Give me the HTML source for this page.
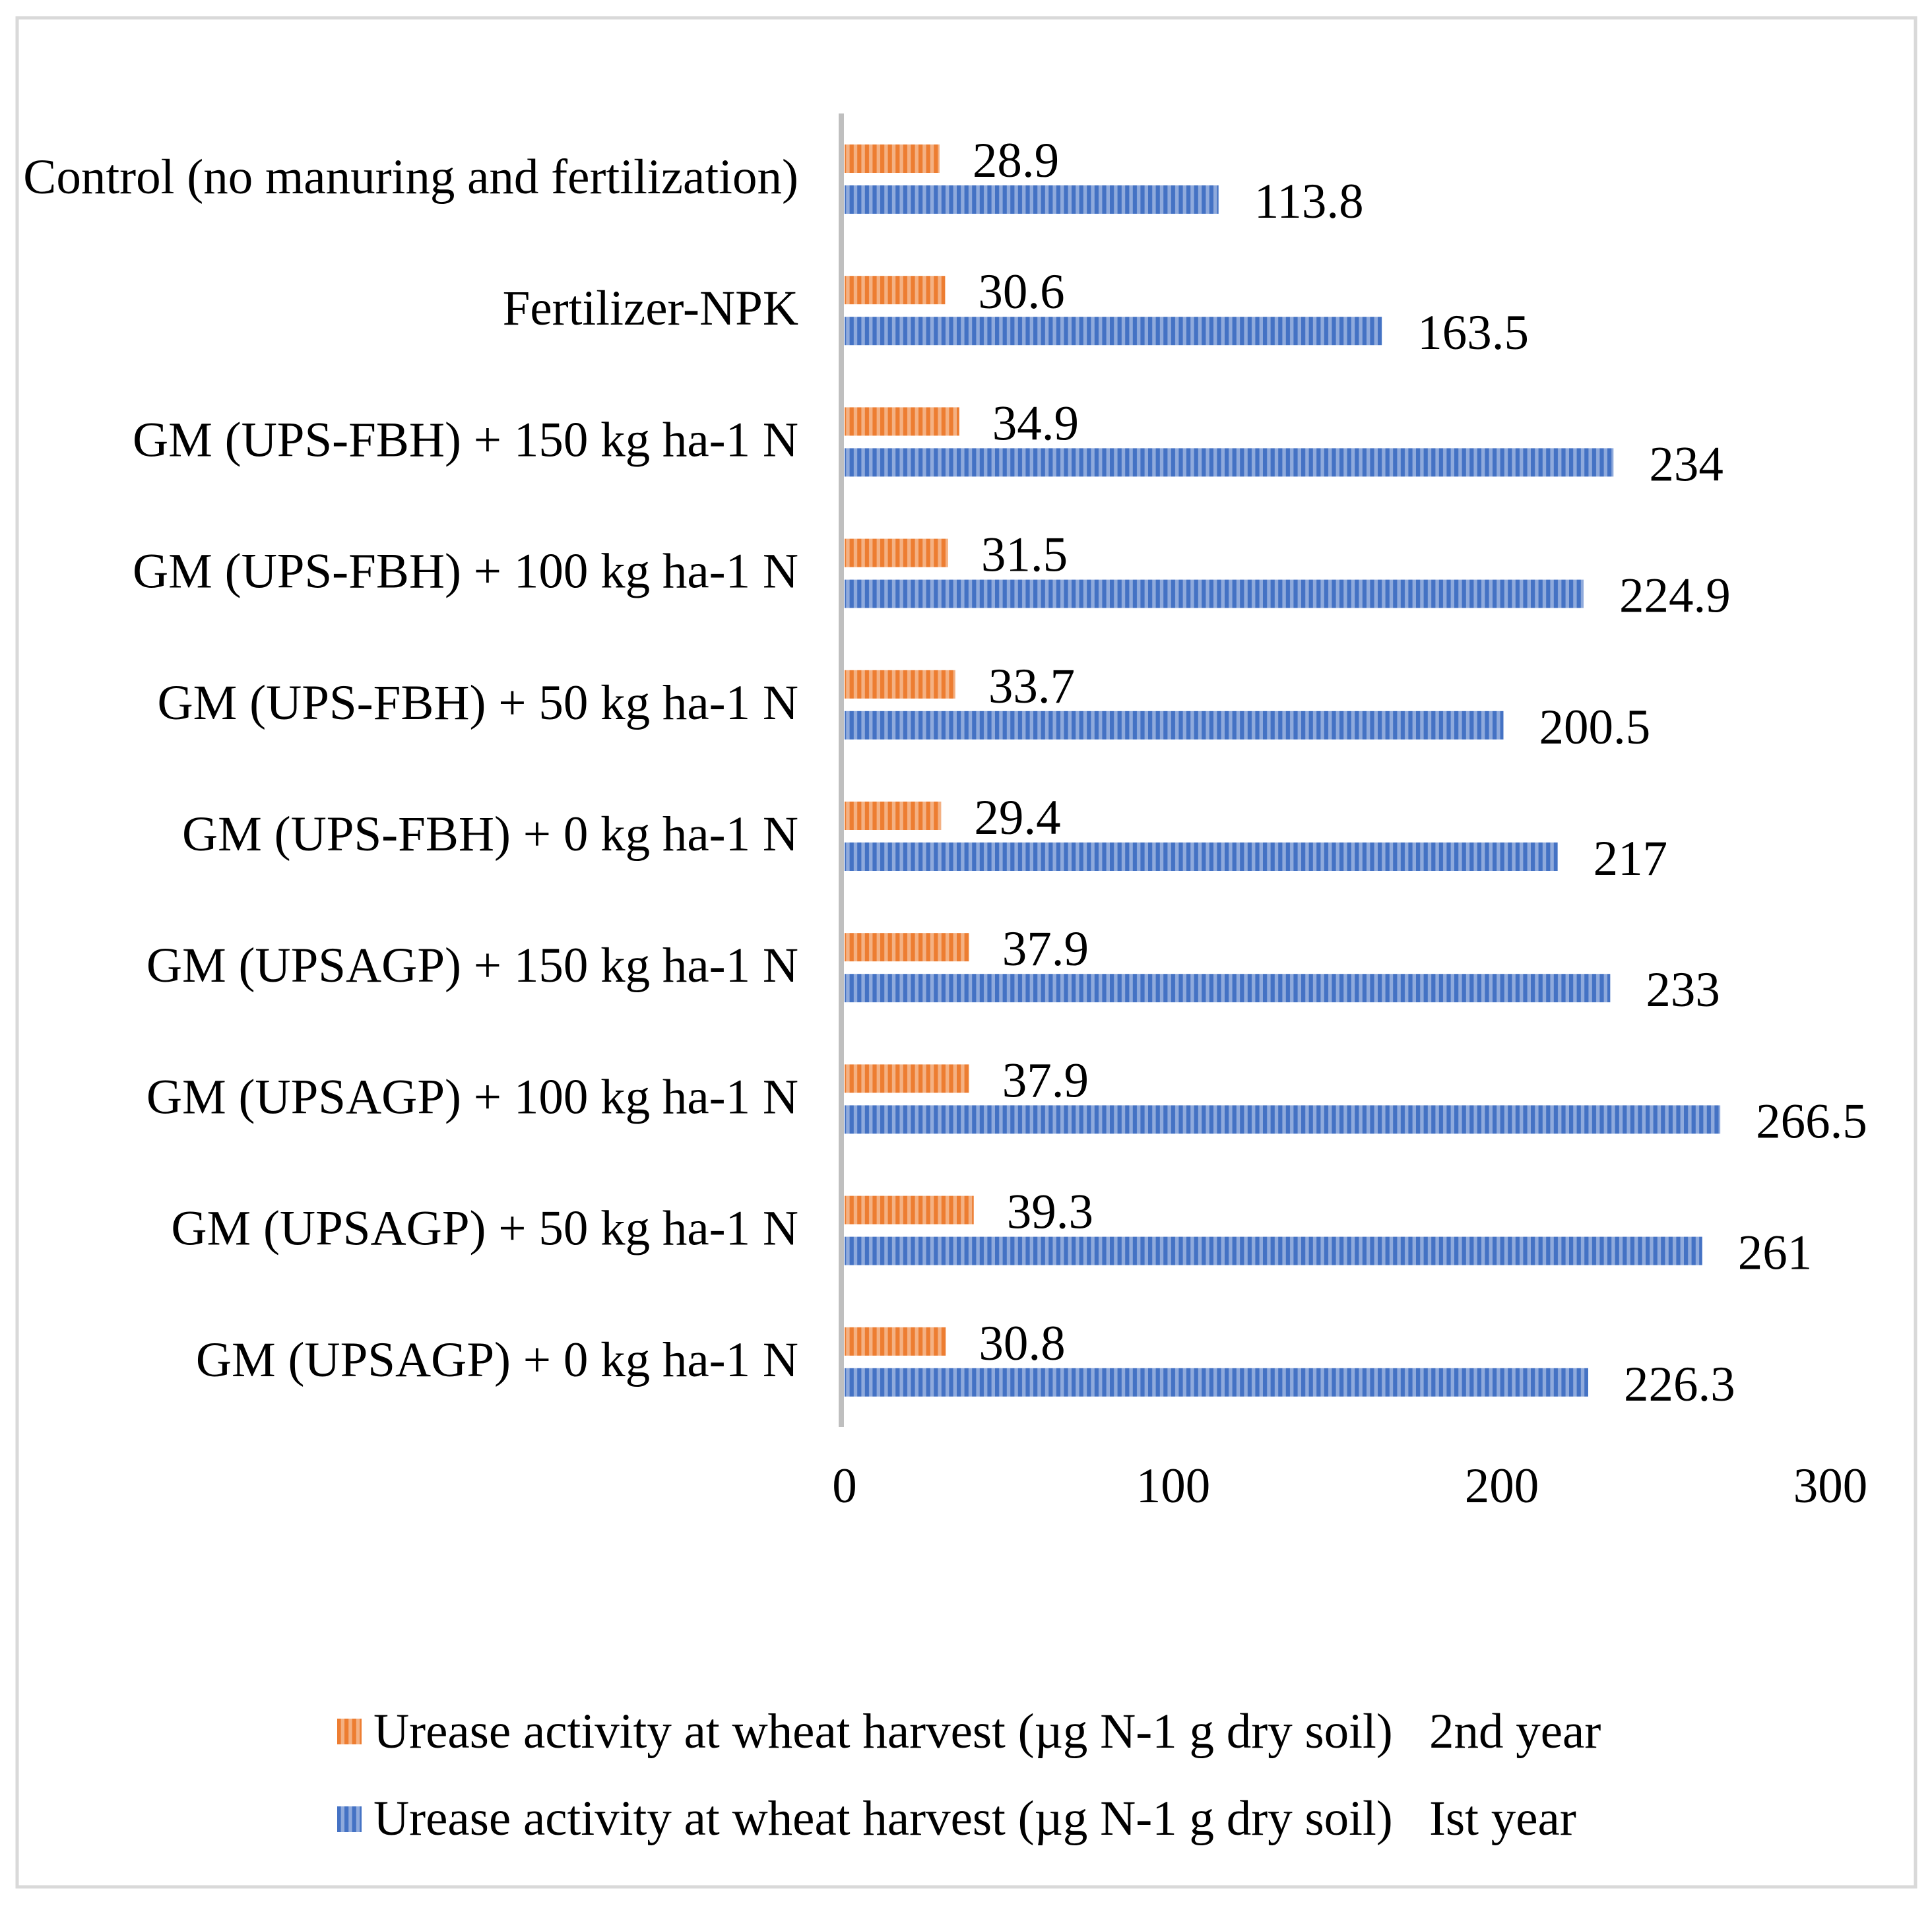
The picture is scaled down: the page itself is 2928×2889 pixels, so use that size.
<!DOCTYPE html>
<html><head><meta charset="utf-8"><style>
html,body{margin:0;padding:0;background:#fff;}
svg{display:block;font-family:"Liberation Serif","Times New Roman",serif;}
</style></head><body>
<svg id="chart" width="2928" height="2889" viewBox="0 0 2928 2889" xmlns="http://www.w3.org/2000/svg">
<defs>
<pattern id="pOrange" width="11.6" height="20" patternUnits="userSpaceOnUse"><rect width="11.6" height="20" fill="#F4B183"/><rect width="6.2" height="20" fill="#ED7D31"/></pattern>
<pattern id="pBlue" width="11.6" height="20" patternUnits="userSpaceOnUse"><rect width="11.6" height="20" fill="#8FAADC"/><rect width="6.2" height="20" fill="#4472C4"/></pattern>
</defs>
<rect x="26" y="27" width="2877" height="2833" fill="#fff" stroke="#D9D9D9" stroke-width="5"/>
<g id="bars"></g>
<rect x="1271" y="172" width="8" height="1991" fill="#BFBFBF"/>
<g id="ticks"></g>
<g>
<rect x="511" y="2605" width="37" height="39" fill="url(#pOrange)"/>
<text x="566" y="2649" font-size="75">Urease activity at wheat harvest (µg N-1 g dry soil)</text>
<text x="2166" y="2649" font-size="75">2nd year</text>
<rect x="511" y="2738" width="37" height="39" fill="url(#pBlue)"/>
<text x="566" y="2781" font-size="75">Urease activity at wheat harvest (µg N-1 g dry soil)</text>
<text x="2166" y="2781" font-size="75">Ist year</text>
</g>
</svg>
<script>
const categories = ["Control (no manuring and fertilization)","Fertilizer-NPK","GM (UPS-FBH) + 150 kg ha-1 N","GM (UPS-FBH) + 100 kg ha-1 N","GM (UPS-FBH) + 50 kg ha-1 N","GM (UPS-FBH) + 0 kg ha-1 N","GM (UPSAGP) + 150 kg ha-1 N","GM (UPSAGP) + 100 kg ha-1 N","GM (UPSAGP) + 50 kg ha-1 N","GM (UPSAGP) + 0 kg ha-1 N"];
const year2Values = [28.9,30.6,34.9,31.5,33.7,29.4,37.9,37.9,39.3,30.8];
const year1Values = [113.8,163.5,234,224.9,200.5,217,233,266.5,261,226.3];
const tickValues = [0,100,200,300];
const tickLabels = ["0","100","200","300"];

const NS = "http://www.w3.org/2000/svg";
const x0 = 1280, pxPerUnit = 4.98;
function xScale(v){ return x0 + v*pxPerUnit; }
const top0 = 219, pitch = 199.2, barH = 43, gap = 19;
function yBand(i){ return top0 + i*pitch; }
function mk(tag, attrs, parent, text){
  const el = document.createElementNS(NS, tag);
  for (const k in attrs) el.setAttribute(k, attrs[k]);
  if (text !== undefined) el.textContent = text;
  parent.appendChild(el);
  return el;
}
const gb = document.getElementById('bars');
categories.forEach((c,i)=>{
  const y = yBand(i);
  const lab = mk('text',{x:1210,y:y+74,'font-size':75,'text-anchor':'end'},gb,c);
  
  
  const r2 = mk('rect',{x:x0,y:y,width:xScale(year2Values[i])-x0,height:barH,fill:'url(#pOrange)'},gb);
  
  
  const t2 = mk('text',{x:xScale(year2Values[i])+50,y:y+barH+6,'font-size':75},gb,String(year2Values[i]));
  
  
  const yb = y+barH+gap;
  const r1 = mk('rect',{x:x0,y:yb,width:xScale(year1Values[i])-x0,height:barH,fill:'url(#pBlue)'},gb);
  
  
  const t1 = mk('text',{x:xScale(year1Values[i])+54,y:yb+barH+6,'font-size':75},gb,String(year1Values[i]));
  
  
});
const gt = document.getElementById('ticks');
tickValues.forEach((v,i)=>{
  const t = mk('text',{x:xScale(v),y:2277,'font-size':75,'text-anchor':'middle'},gt,tickLabels[i]);
  
  
});
</script>
</body></html>
